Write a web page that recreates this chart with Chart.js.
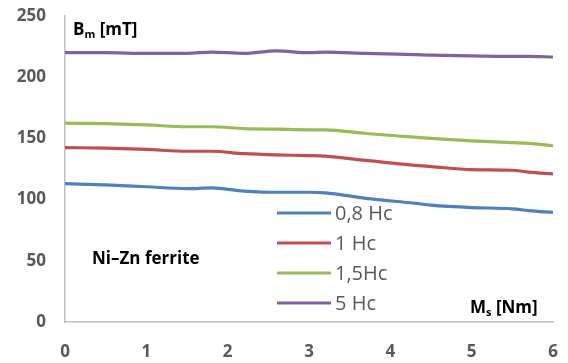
<!DOCTYPE html>
<html>
<head>
<meta charset="utf-8">
<script src="https://cdn.jsdelivr.net/npm/chart.js@4"></script>
<style>
    html, body { margin: 0; padding: 0; background: #fff; }
    #wrap { width: 568px; height: 363px; }
</style>
</head>
<body>
<div id="wrap"><canvas id="fluxChart" width="568" height="363"></canvas></div>
<script>
// torque Ms [Nm] along the x axis
const torque = [0, 0.5, 1, 1.5, 1.8, 2.2, 2.6, 3, 3.2, 3.7, 4.3, 4.5, 5, 5.5, 5.7, 6];

// flux density Bm [mT] for each field level
const hc08 = [113, 112, 110.5, 109, 109.5, 107, 106, 106, 105.5, 101, 97, 95.5, 93.5, 92.5, 91, 89.5];
const hc1 = [142.5, 142, 141, 139.5, 139.5, 137.5, 136.5, 136, 135.5, 132, 128, 127, 124.5, 124, 122.5, 121];
const hc15 = [162.5, 162, 161, 159.5, 159.5, 158, 157.5, 157, 157, 154, 151, 150, 148, 146.5, 146, 144];
const hc5 = [220, 220, 219.5, 219.5, 220.5, 219.5, 221.5, 220, 220.5, 219.5, 218.5, 218, 217.5, 217, 217, 216.5];

const seriesNames = ['0,8 Hc', '1 Hc', '1,5Hc', '5 Hc'];
const seriesColors = ['#4F81BD', '#C0504D', '#9BBB59', '#8064A2'];
const yTicks = [0, 50, 100, 150, 200, 250];

const FONT = '"Open Sans", "DejaVu Sans", sans-serif';

function toPoints(values) {
    return values.map((v, i) => ({ x: torque[i], y: v }));
}

// legend drawn inside the plot area, stacked lines with labels
const innerLegend = {
    id: 'innerLegend',
    afterDatasetsDraw(chart) {
        const ctx = chart.ctx;
        const area = chart.chartArea;
        const x0 = area.left + 212;
        const y0 = area.top + 197;
        ctx.save();
        ctx.font = '20px ' + FONT;
        ctx.textBaseline = 'middle';
        chart.data.datasets.forEach((ds, i) => {
            const y = y0 + i * 30;
            ctx.strokeStyle = ds.borderColor;
            ctx.lineWidth = 3;
            ctx.beginPath();
            ctx.moveTo(x0, y);
            ctx.lineTo(x0 + 54, y);
            ctx.stroke();
            ctx.fillStyle = '#595959';
            ctx.fillText(ds.label, x0 + 58, y + 1);
        });
        ctx.restore();
    }
};

// axis titles and the material note
const annotations = {
    id: 'annotations',
    afterDraw(chart) {
        const ctx = chart.ctx;
        const area = chart.chartArea;
        ctx.save();
        ctx.fillStyle = '#000';
        ctx.textBaseline = 'alphabetic';

        function sub(x, y, main, small, rest) {
            ctx.font = 'bold 17px ' + FONT;
            ctx.fillText(main, x, y);
            let w = ctx.measureText(main).width;
            ctx.font = 'bold 11px ' + FONT;
            ctx.fillText(small, x + w, y + 3);
            w += ctx.measureText(small).width;
            ctx.font = 'bold 17px ' + FONT;
            ctx.fillText(rest, x + w, y);
        }

        sub(area.left + 8, area.top + 19, 'B', 'm', ' [mT]');
        sub(area.right - 83, area.bottom - 9, 'M', 's', ' [Nm]');

        ctx.font = 'bold 17px ' + FONT;
        ctx.fillText('Ni\u2013Zn ferrite', area.left + 27, area.bottom - 58);
        ctx.restore();
    }
};

const ctx = document.getElementById('fluxChart').getContext('2d');

new Chart(ctx, {
    type: 'line',
    data: {
        datasets: [hc08, hc1, hc15, hc5].map((vals, i) => ({
            label: seriesNames[i],
            data: toPoints(vals),
            borderColor: seriesColors[i],
            backgroundColor: seriesColors[i],
            borderWidth: 3.2,
            pointRadius: 0,
            tension: 0.4,
            cubicInterpolationMode: 'monotone',
            fill: false
        }))
    },
    options: {
        responsive: false,
        animation: false,
        layout: {
            padding: { top: 16, right: 15, left: 0, bottom: 0 }
        },
        plugins: {
            legend: { display: false },
            tooltip: { enabled: false }
        },
        scales: {
            x: {
                type: 'linear',
                min: 0,
                max: 6,
                afterFit: scale => {
                    scale.height = 41;
                    scale.paddingLeft = 0;
                    scale.paddingRight = 0;
                },
                grid: { display: false, drawTicks: false },
                border: { color: '#BFBFBF', width: 1.5 },
                ticks: {
                    stepSize: 1,
                    padding: 20,
                    color: '#595959',
                    font: { family: FONT, size: 17, weight: 'bold' }
                }
            },
            y: {
                min: 0,
                max: 250,
                afterFit: scale => {
                    scale.width = 65;
                    scale.paddingTop = 0;
                    scale.paddingBottom = 0;
                },
                afterBuildTicks: scale => {
                    scale.ticks = yTicks.map(v => ({ value: v }));
                },
                grid: { display: false, drawTicks: false },
                border: { color: '#BFBFBF', width: 1.5 },
                ticks: {
                    padding: 19,
                    color: '#595959',
                    font: { family: FONT, size: 17, weight: 'bold' }
                }
            }
        }
    },
    plugins: [innerLegend, annotations]
});
</script>
</body>
</html>
